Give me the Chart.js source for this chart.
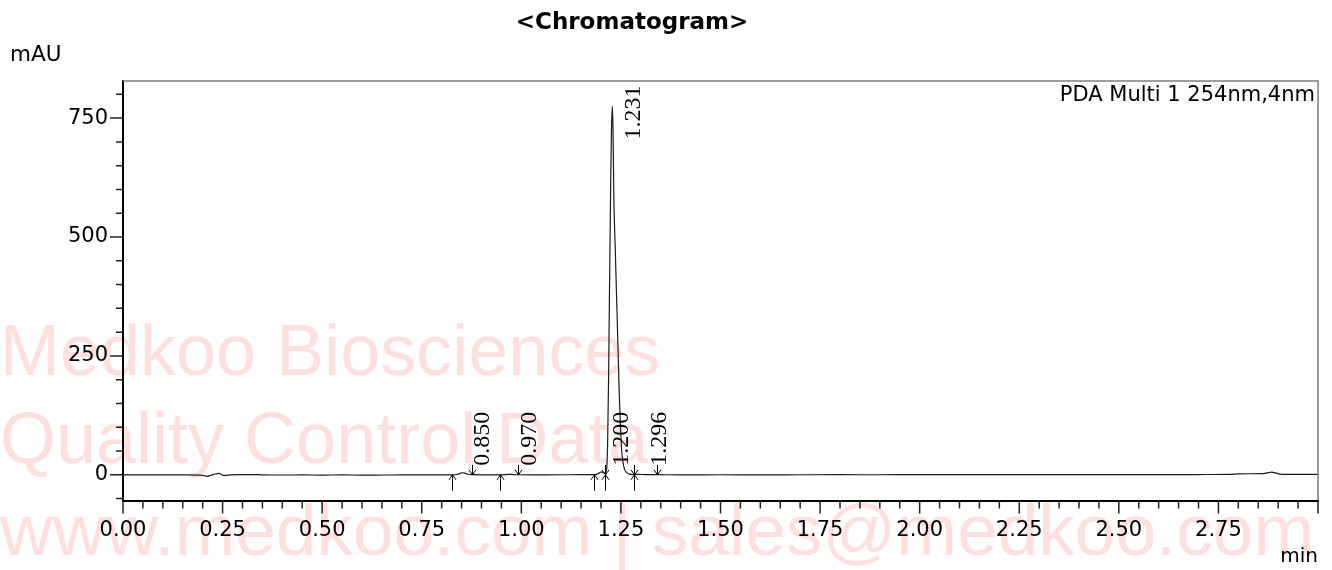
<!DOCTYPE html>
<html>
<head>
<meta charset="utf-8">
<title>Chromatogram</title>
<script src="https://cdn.jsdelivr.net/npm/chart.js@4.4.0/dist/chart.umd.min.js"></script>
<style>
  html, body { margin: 0; padding: 0; background: #fff; overflow: hidden; }
  #wrap { position: relative; width: 1332px; height: 570px; font-family: "DejaVu Sans", Arial, sans-serif; }
  .wm { position: absolute; left: 0; font-family: "Liberation Sans", Arial, sans-serif; font-size: 72px; line-height: 72px; color: #ffe0e0; white-space: nowrap; }
  .txt { position: absolute; white-space: nowrap; color: #000; line-height: 1; }
  canvas { position: absolute; left: 0; top: 0; }
</style>
</head>
<body>
<div id="wrap">
  <div class="wm" style="top:314px;">Medkoo Biosciences</div>
  <div class="wm" style="top:402px;">Quality Control Data</div>
  <div class="wm" style="top:494px; font-size:73px;">www.medkoo.com | sales@medkoo.com</div>
  <canvas id="chrom" width="1332" height="570"></canvas>
  <div class="txt" style="left:632px; top:10px; font-size:23px; font-weight:bold; transform:translateX(-50%);">&lt;Chromatogram&gt;</div>
  <div class="txt" style="left:10px; top:43px; font-size:21.5px;">mAU</div>
  <div class="txt" style="right:17px; top:84px; font-size:21px;">PDA Multi 1 254nm,4nm</div>
  <div class="txt" style="right:14px; top:545px; font-size:20px;">min</div>
</div>
<script>
// retention time (min) and absorbance (mAU)
const times = [
  0.000, 0.050, 0.100, 0.150, 0.190, 0.200, 0.207, 0.212, 0.218, 0.226,
  0.234, 0.241, 0.247, 0.253, 0.260, 0.270, 0.290, 0.320, 0.350, 0.400,
  0.450, 0.500, 0.550, 0.600, 0.650, 0.700, 0.750, 0.800, 0.825, 0.838,
  0.846, 0.852, 0.858, 0.866, 0.875, 0.900, 0.946, 0.962, 0.970, 0.980,
  0.995, 1.050, 1.100, 1.150, 1.182, 1.190, 1.196, 1.201, 1.206, 1.210,
  1.2140, 1.2165, 1.2190, 1.2215, 1.2240, 1.2262, 1.2282, 1.2302, 1.2324, 1.2355,
  1.2390, 1.2425, 1.2457, 1.2490, 1.2518, 1.2550, 1.2590, 1.2640, 1.2700, 1.2800,
  1.2960, 1.3100, 1.3400, 1.400, 1.500, 1.600, 1.700, 1.800, 1.900, 2.000,
  2.100, 2.200, 2.300, 2.400, 2.500, 2.600, 2.700, 2.780, 2.800, 2.830,
  2.860, 2.875, 2.884, 2.893, 2.905, 2.920, 2.950, 3.000
];
const signal = [
  0.0, -0.3, 0.0, -0.2, -0.5, -1.0, -2.5, -3.2, -1.5, 0.5,
  2.0, 3.2, 1.0, -1.5, -1.0, 0.0, 0.6, 0.5, 0.0, -0.4,
  -0.3, -0.5, -0.3, -0.5, -0.4, -0.3, -0.2, -0.1, 0.0, 0.6,
  3.0, 4.3, 3.4, 1.2, 0.2, 0.0, 0.0, 0.6, 1.0, 0.5,
  0.1, 0.0, 0.1, 0.2, 0.3, 1.5, 4.0, 6.0, 4.5, 3.0,
  12, 60, 200, 400, 590, 720, 776, 725, 578, 484,
  378, 272, 175, 100, 52, 28, 12, 5, 2, 0.5,
  1.0, 0.3, 0.2, 0.0, 0.1, 0.0, 0.1, 0.2, 0.1, 0.3,
  0.2, 0.3, 0.4, 0.3, 0.5, 0.4, 0.6, 1.0, 2.0, 2.2,
  2.5, 4.5, 5.5, 4.0, 1.5, 1.0, 0.8, 0.8
];

// peak table
const peakTimes = [0.850, 0.970, 1.200, 1.231, 1.296];
const peakLabels = ["0.850", "0.970", "1.200", "1.231", "1.296"];
const labelLevels = [19, 19, 19, 705, 19]; // mAU where each label starts
const peakStarts = [0.825, 0.946, 1.182, 1.211, 1.283]; // up arrows
const peakEnds = [0.875, 0.991, 1.211, 1.283, 1.340]; // down arrows

// axis ticks
const xMajorTicks = [0, 0.25, 0.5, 0.75, 1.0, 1.25, 1.5, 1.75, 2.0, 2.25, 2.5, 2.75];
const yMajorTicks = [0, 250, 500, 750];
const xMin = 0, xMax = 3.0, yMin = -54, yMax = 828;

const decorations = {
  id: "decorations",
  afterDraw(chart) {
    const { ctx, chartArea: a, scales: { x, y } } = chart;
    ctx.save();

    // top and right frame
    ctx.strokeStyle = "#7f7f7f";
    ctx.lineWidth = 1.5;
    ctx.beginPath();
    ctx.moveTo(a.left, a.top);
    ctx.lineTo(a.right, a.top);
    ctx.lineTo(a.right, a.bottom);
    ctx.stroke();

    // tick marks, minor every 0.05 min / 50 mAU
    ctx.strokeStyle = "#222";
    ctx.lineWidth = 1.5;
    ctx.beginPath();
    for (let i = 0; i <= 60; i++) {
      const px = x.getPixelForValue(i * 0.05);
      ctx.moveTo(px, a.bottom);
      ctx.lineTo(px, a.bottom + (i % 5 === 0 ? 13 : 8));
    }
    for (let v = -50; v <= 800; v += 50) {
      const py = y.getPixelForValue(v);
      ctx.moveTo(a.left, py);
      ctx.lineTo(a.left - (v % 250 === 0 ? 13 : 7), py);
    }
    ctx.stroke();

    // integration arrows
    const base = y.getPixelForValue(0);
    ctx.strokeStyle = "#000";
    ctx.lineWidth = 1;
    ctx.beginPath();
    peakEnds.forEach((t) => {
      const px = Math.round(x.getPixelForValue(t)) + 0.5;
      ctx.moveTo(px, base - 10);
      ctx.lineTo(px, base);
      ctx.moveTo(px - 3.5, base - 5);
      ctx.lineTo(px, base);
      ctx.lineTo(px + 3.5, base - 5);
    });
    peakStarts.forEach((t) => {
      const px = Math.round(x.getPixelForValue(t)) + 0.5;
      ctx.moveTo(px, base + 16);
      ctx.lineTo(px, base);
      ctx.moveTo(px - 3.5, base + 5);
      ctx.lineTo(px, base);
      ctx.lineTo(px + 3.5, base + 5);
    });
    ctx.stroke();

    // rotated retention time labels
    ctx.fillStyle = "#000";
    ctx.font = '24px "Liberation Serif", "Times New Roman", serif';
    ctx.textAlign = "left";
    ctx.textBaseline = "alphabetic";
    peakTimes.forEach((t, i) => {
      ctx.save();
      ctx.translate(x.getPixelForValue(t) + 27, y.getPixelForValue(labelLevels[i]));
      ctx.rotate(-Math.PI / 2);
      ctx.fillText(peakLabels[i], 0, 0);
      ctx.restore();
    });

    ctx.restore();
  }
};

const tickFont = { family: '"DejaVu Sans", Arial, sans-serif', size: 21 };

new Chart(document.getElementById("chrom"), {
  type: "line",
  data: {
    datasets: [{
      data: times.map((t, i) => ({ x: t, y: signal[i] })),
      borderColor: "#1a1a1a",
      borderWidth: 1.2,
      pointRadius: 0,
      cubicInterpolationMode: "monotone",
      fill: false
    }]
  },
  options: {
    responsive: false,
    animation: false,
    layout: { padding: { top: 81, right: 14, left: 0, bottom: 0 } },
    plugins: { legend: { display: false }, tooltip: { enabled: false }, title: { display: false } },
    scales: {
      x: {
        type: "linear",
        min: xMin,
        max: xMax,
        afterFit: (s) => { s.height = 69.5; },
        afterBuildTicks: (s) => { s.ticks = xMajorTicks.map((v) => ({ value: v })); },
        ticks: {
          autoSkip: false,
          maxRotation: 0,
          padding: 4,
          color: "#000",
          font: tickFont,
          callback: (v) => Number(v).toFixed(2)
        },
        grid: { drawOnChartArea: false, drawTicks: true, tickLength: 13, tickColor: "rgba(0,0,0,0)" },
        border: { color: "#000", width: 2 }
      },
      y: {
        type: "linear",
        min: yMin,
        max: yMax,
        afterFit: (s) => { s.width = 123; },
        afterBuildTicks: (s) => { s.ticks = yMajorTicks.map((v) => ({ value: v })); },
        ticks: {
          autoSkip: false,
          padding: 2,
          color: "#000",
          font: tickFont,
          callback: (v) => String(v)
        },
        grid: { drawOnChartArea: false, drawTicks: true, tickLength: 13, tickColor: "rgba(0,0,0,0)" },
        border: { color: "#000", width: 2 }
      }
    }
  },
  plugins: [decorations]
});
</script>
</body>
</html>
